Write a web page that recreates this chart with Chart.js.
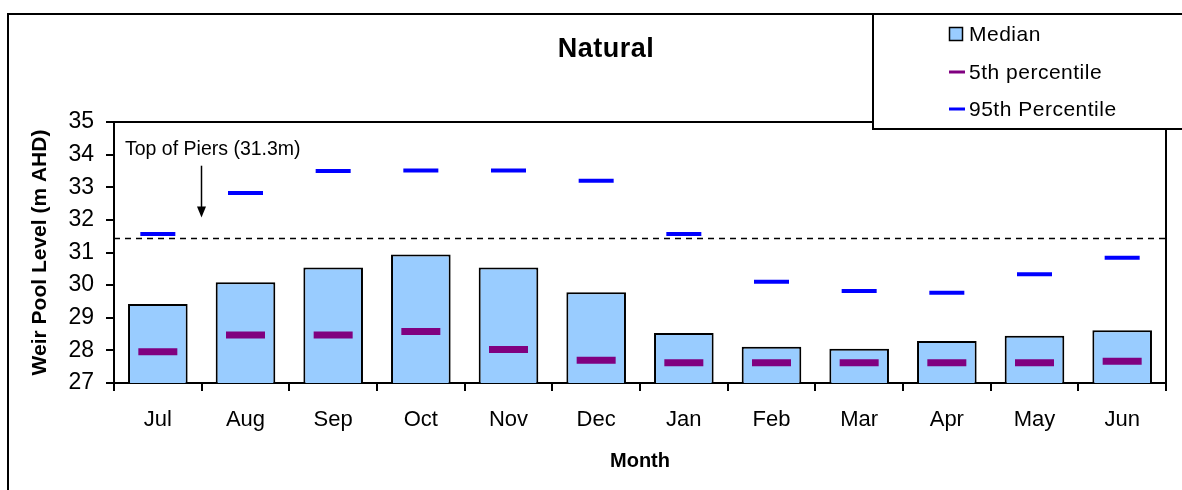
<!DOCTYPE html>
<html>
<head>
<meta charset="utf-8">
<script src="https://cdn.jsdelivr.net/npm/chart.js@4.4.1/dist/chart.umd.min.js"></script>
<style>
  html, body { margin: 0; padding: 0; background: #fff; }
  #wrap { width: 1182px; height: 490px; }
</style>
</head>
<body>
<div id="wrap"><canvas id="chart" width="1182" height="490"></canvas></div>
<script>
// data
const months = ["Jul", "Aug", "Sep", "Oct", "Nov", "Dec", "Jan", "Feb", "Mar", "Apr", "May", "Jun"];
const median = [29.42, 30.09, 30.54, 30.94, 30.54, 29.78, 28.53, 28.11, 28.05, 28.29, 28.45, 28.62];
const pct5 = [27.96, 28.47, 28.47, 28.58, 28.03, 27.70, 27.62, 27.62, 27.62, 27.62, 27.62, 27.67];
const pct95 = [31.57, 32.82, 33.50, 33.51, 33.51, 33.20, 31.57, 30.10, 29.82, 29.77, 30.33, 30.84];
const yMin = 27;
const yMax = 35;
const piersLevel = 31.45;
const piersLabel = "Top of Piers (31.3m)";
const arrowFrom = 33.66;
const arrowTo = 32.07;
const labelLevel = 34.15;

const FONT = "'Liberation Sans', Arial, Helvetica, sans-serif";

// frame, piers line, annotation, title and legend box
const decor = {
  id: "decor",
  beforeDraw(chart) {
    const ctx = chart.ctx;
    ctx.save();
    ctx.fillStyle = "#fff";
    ctx.fillRect(0, 0, chart.width, chart.height);
    ctx.restore();
  },
  afterDraw(chart) {
    const ctx = chart.ctx;
    const area = chart.chartArea;
    const x = chart.scales.x;
    const y = chart.scales.y;
    ctx.save();

    // top + right of plot box
    ctx.strokeStyle = "#000";
    ctx.lineWidth = 2;
    ctx.beginPath();
    ctx.moveTo(area.left, area.top);
    ctx.lineTo(area.right, area.top);
    ctx.lineTo(area.right, area.bottom);
    ctx.stroke();

    // top of piers dashed line
    const py = Math.round(y.getPixelForValue(piersLevel)) + 0.5;
    ctx.lineWidth = 1.5;
    ctx.setLineDash([6, 5]);
    ctx.beginPath();
    ctx.moveTo(area.left, py);
    ctx.lineTo(area.right, py);
    ctx.stroke();
    ctx.setLineDash([]);

    // annotation text + arrow
    const ax = Math.round((x.getPixelForValue(0) + x.getPixelForValue(1)) / 2) - 0.5;
    ctx.fillStyle = "#000";
    ctx.font = "19.5px " + FONT;
    ctx.textAlign = "left";
    ctx.textBaseline = "middle";
    ctx.fillText(piersLabel, area.left + 11, y.getPixelForValue(labelLevel));
    const a1 = y.getPixelForValue(arrowFrom);
    const a2 = y.getPixelForValue(arrowTo);
    ctx.lineWidth = 1.5;
    ctx.beginPath();
    ctx.moveTo(ax, a1);
    ctx.lineTo(ax, a2 - 8);
    ctx.stroke();
    ctx.beginPath();
    ctx.moveTo(ax - 4.5, a2 - 11);
    ctx.lineTo(ax + 4.5, a2 - 11);
    ctx.lineTo(ax, a2);
    ctx.closePath();
    ctx.fill();

    // chart title
    ctx.font = "bold 27px " + FONT;
    ctx.letterSpacing = "0.5px";
    ctx.textAlign = "center";
    ctx.fillText("Natural", 606, 50);

    // legend box
    ctx.fillStyle = "#fff";
    ctx.fillRect(873, 14, 330, 115);
    ctx.lineWidth = 2;
    ctx.strokeRect(873, 14, 330, 115);
    ctx.font = "21px " + FONT;
    ctx.textAlign = "left";
    const rows = [34, 72, 109];
    chart.data.datasets.forEach((ds, i) => {
      const ry = rows[i];
      if (ds.type === "bar") {
        ctx.fillStyle = ds.backgroundColor;
        ctx.fillRect(949.5, ry - 6.5, 13, 13);
        ctx.strokeStyle = "#000";
        ctx.lineWidth = 1.5;
        ctx.strokeRect(949.5, ry - 6.5, 13, 13);
      } else {
        ctx.strokeStyle = ds.borderColor;
        ctx.lineWidth = 3;
        ctx.beginPath();
        ctx.moveTo(949, ry);
        ctx.lineTo(965, ry);
        ctx.stroke();
      }
      ctx.fillStyle = "#000";
      ctx.fillText(ds.label, 969, ry + 1);
    });
    ctx.letterSpacing = "0px";

    // outer frame
    ctx.strokeStyle = "#000";
    ctx.lineWidth = 2;
    ctx.strokeRect(8, 14, 1200, 500);
    ctx.restore();
  }
};

new Chart(document.getElementById("chart"), {
  type: "bar",
  data: {
    labels: months,
    datasets: [
      {
        type: "bar",
        label: "Median",
        data: median,
        backgroundColor: "#99CCFF",
        borderColor: "#000",
        borderWidth: 2,
        barPercentage: 0.68,
        categoryPercentage: 1,
        order: 3
      },
      {
        type: "line",
        label: "5th percentile",
        data: pct5,
        showLine: false,
        borderColor: "#800080",
        backgroundColor: "#800080",
        pointStyle: "line",
        pointRadius: 19.5,
        pointBorderWidth: 7,
        order: 2
      },
      {
        type: "line",
        label: "95th Percentile",
        data: pct95,
        showLine: false,
        borderColor: "#0000FF",
        backgroundColor: "#0000FF",
        pointStyle: "line",
        pointRadius: 17.5,
        pointBorderWidth: 4,
        order: 1
      }
    ]
  },
  options: {
    responsive: false,
    animation: false,
    layout: { autoPadding: false, padding: { left: 0, top: 122, right: 16, bottom: 0 } },
    plugins: {
      legend: { display: false },
      title: { display: false },
      tooltip: { enabled: false }
    },
    scales: {
      x: {
        grid: { offset: true, drawOnChartArea: false, drawTicks: true, tickLength: 8, color: "#000", lineWidth: 2 },
        border: { color: "#000", width: 2 },
        ticks: { color: "#000", font: { family: FONT, size: 22 }, padding: 16, maxRotation: 0 },
        title: {
          display: true,
          text: "Month",
          color: "#000",
          font: { family: FONT, size: 20, weight: "bold" },
          padding: { top: 0, bottom: 17 }
        },
        afterFit(scale) {
          scale.height = 107;
          scale.paddingLeft = 0;
          scale.paddingRight = 0;
        }
      },
      y: {
        min: yMin,
        max: yMax,
        grid: { drawOnChartArea: false, drawTicks: true, tickLength: 8, color: "#000", lineWidth: 2 },
        border: { color: "#000", width: 2 },
        ticks: { stepSize: 1, color: "#000", font: { family: FONT, size: 23 }, padding: 12 },
        title: {
          display: true,
          text: "Weir Pool Level (m AHD)",
          color: "#000",
          font: { family: FONT, size: 21, weight: "bold" },
          padding: { top: 28, bottom: 0 }
        },
        afterFit(scale) { scale.width = 114; }
      }
    }
  },
  plugins: [decor]
});
</script>
</body>
</html>
